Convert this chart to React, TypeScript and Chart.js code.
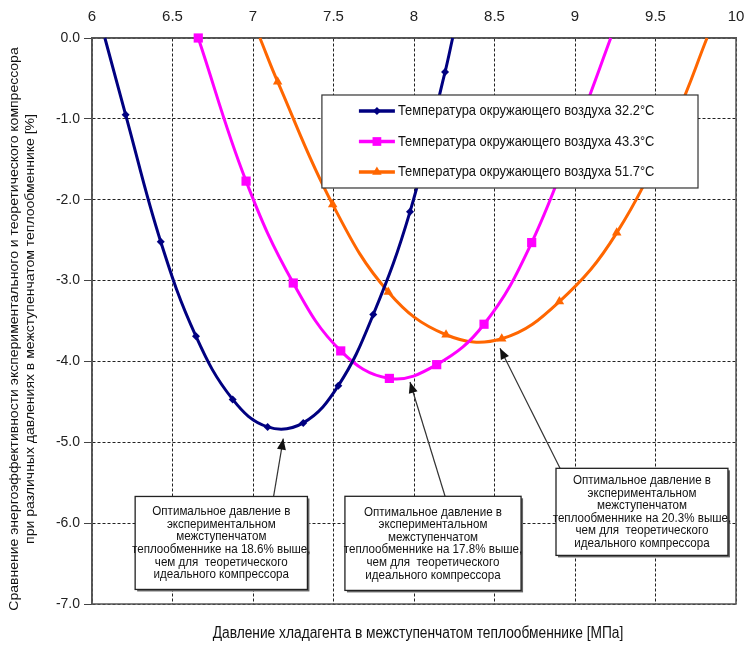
import React, { useEffect, useRef } from "react";
import { Chart, registerables } from "chart.js";
Chart.register(...registerables);

const FONT = "'Liberation Sans', Arial, sans-serif";

// ---- data ----
const seriesNames = [
  "Температура окружающего воздуха 32.2°C",
  "Температура окружающего воздуха 43.3°C",
  "Температура окружающего воздуха 51.7°C",
];

const pressure322 = [6.08, 6.209, 6.427, 6.646, 6.874, 7.091, 7.312, 7.53, 7.747, 7.975, 8.193, 8.24];
const effect322 = [0.0, -0.95, -2.52, -3.69, -4.47, -4.81, -4.76, -4.3, -3.42, -2.15, -0.42, 0.0];
const marked322 = [false, true, true, true, true, true, true, true, true, true, true, false];

const pressure433 = [6.66, 6.957, 7.25, 7.545, 7.847, 8.141, 8.435, 8.731, 9.04, 9.222];
const effect433 = [0.0, -1.77, -3.03, -3.87, -4.21, -4.04, -3.54, -2.53, -0.98, 0.0];
const marked433 = [true, true, true, true, true, true, true, true, true, false];

const pressure517 = [7.043, 7.153, 7.495, 7.84, 8.199, 8.545, 8.903, 9.259, 9.63, 9.82];
const effect517 = [0.0, -0.54, -2.06, -3.14, -3.67, -3.72, -3.26, -2.41, -0.95, 0.0];
const marked517 = [false, true, true, true, true, true, true, true, true, false];

const xRange = [6, 10];
const xStep = 0.5;
const yRange = [-7, 0];
const yStep = 1;

const xTitle = "Давление хладагента в межступенчатом теплообменнике [МПа]";
const yTitleLines = [
  "Сравнение энергоэффективности экспериментального и теоретического компрессора",
  "при различных давлениях в межступенчатом теплообменнике [%]",
];

const noteLines = [
  ["Оптимальное давление в", "экспериментальном", "межступенчатом", "теплообменнике на 18.6% выше,", "чем для  теоретического", "идеального компрессора"],
  ["Оптимальное давление в", "экспериментальном", "межступенчатом", "теплообменнике на 17.8% выше,", "чем для  теоретического", "идеального компрессора"],
  ["Оптимальное давление в", "экспериментальном", "межступенчатом", "теплообменнике на 20.3% выше,", "чем для  теоретического", "идеального компрессора"],
];
// arrow tips (data coords, at each curve's optimum)
const optimumPressure = [7.188, 7.975, 8.534];
const optimumEffect = [-4.954, -4.254, -3.837];

// ---- styles / layout ----
const COLORS = ["#000080", "#FF00FF", "#FF6600"];
const MARKERS = ["rectRot", "rect", "triangle"];
const MARKER_R = [4, 6.5, 5.5];
const SQX = 0.86; // horizontal squeeze of text

// annotation boxes in data coords: [x1, yTop, x2, yBottom, tailX]
const NOTE_BOX = [
  [6.268, -5.67, 7.338, -6.82, 7.128],
  [7.571, -5.668, 8.665, -6.832, 8.193],
  [8.882, -5.322, 9.95, -6.399, 8.907],
];

function drawText(ctx: CanvasRenderingContext2D, text: string, x: number, y: number, size: number, align: CanvasTextAlign) {
  ctx.save();
  ctx.translate(x, y);
  ctx.scale(SQX, 1);
  ctx.font = `${size}px ${FONT}`;
  ctx.textAlign = align;
  ctx.textBaseline = "middle";
  ctx.fillStyle = "#111";
  ctx.fillText(text, 0, 0);
  ctx.restore();
}

function drawMarker(ctx: CanvasRenderingContext2D, kind: string, x: number, y: number, r: number, color: string) {
  ctx.save();
  ctx.fillStyle = color;
  ctx.beginPath();
  if (kind === "rectRot") {
    ctx.moveTo(x, y - r);
    ctx.lineTo(x + r, y);
    ctx.lineTo(x, y + r);
    ctx.lineTo(x - r, y);
  } else if (kind === "rect") {
    const s = r * Math.SQRT1_2;
    ctx.rect(x - s, y - s, 2 * s, 2 * s);
  } else {
    ctx.moveTo(x, y - r);
    ctx.lineTo(x + r * 0.866, y + r * 0.5);
    ctx.lineTo(x - r * 0.866, y + r * 0.5);
  }
  ctx.closePath();
  ctx.fill();
  ctx.restore();
}

const overlayPlugin = {
  id: "overlay",
  beforeDatasetsDraw(chart: any) {
    const { ctx, chartArea: a } = chart;
    ctx.save();
    ctx.strokeStyle = "#555";
    ctx.lineWidth = 1.5;
    ctx.strokeRect(a.left, a.top, a.right - a.left, a.bottom - a.top);
    ctx.restore();
  },
  afterDatasetsDraw(chart: any) {
    const { ctx, chartArea: a, scales } = chart;
    const xs = scales.x, ys = scales.y;
    const W = a.right - a.left, H = a.bottom - a.top;

    // legend
    const lx1 = a.left + 0.357 * W, ly1 = a.top + 0.1007 * H;
    const lx2 = a.left + 0.941 * W, ly2 = a.top + 0.265 * H;
    ctx.save();
    ctx.fillStyle = "#fff";
    ctx.fillRect(lx1, ly1, lx2 - lx1, ly2 - ly1);
    ctx.strokeStyle = "#333";
    ctx.lineWidth = 1.2;
    ctx.strokeRect(lx1, ly1, lx2 - lx1, ly2 - ly1);
    ctx.restore();
    const rowsY = [ly1 + 16, ly1 + 46.5, ly1 + 77];
    seriesNames.forEach((name, i) => {
      const y = rowsY[i];
      ctx.save();
      ctx.strokeStyle = COLORS[i];
      ctx.lineWidth = 3.5;
      ctx.beginPath();
      ctx.moveTo(lx1 + 37, y);
      ctx.lineTo(lx1 + 73, y);
      ctx.stroke();
      ctx.restore();
      drawMarker(ctx, MARKERS[i], lx1 + 55, y, MARKER_R[i] * (i === 1 ? 0.95 : 1), COLORS[i]);
      drawText(ctx, name, lx1 + 76, y, 15, "left");
    });

    // annotations
    NOTE_BOX.forEach((b, i) => {
      const x1 = xs.getPixelForValue(b[0]);
      const y1 = ys.getPixelForValue(b[1]);
      const x2 = xs.getPixelForValue(b[2]);
      const y2 = ys.getPixelForValue(b[3]);
      const tx = xs.getPixelForValue(b[4]);
      const px = xs.getPixelForValue(optimumPressure[i]);
      const py = ys.getPixelForValue(optimumEffect[i]);
      ctx.save();
      ctx.strokeStyle = "#333";
      ctx.fillStyle = "#111";
      ctx.lineWidth = 1.2;
      ctx.beginPath();
      ctx.moveTo(tx, y1);
      ctx.lineTo(px, py);
      ctx.stroke();
      const ang = Math.atan2(py - y1, px - tx);
      const L = 11, Wd = 4.5;
      ctx.beginPath();
      ctx.moveTo(px, py);
      ctx.lineTo(px - L * Math.cos(ang) + Wd * Math.sin(ang), py - L * Math.sin(ang) - Wd * Math.cos(ang));
      ctx.lineTo(px - L * Math.cos(ang) - Wd * Math.sin(ang), py - L * Math.sin(ang) + Wd * Math.cos(ang));
      ctx.closePath();
      ctx.fill();
      ctx.fillStyle = "#666";
      ctx.fillRect(x1 + 2, y1 + 2, x2 - x1, y2 - y1);
      ctx.fillStyle = "#fff";
      ctx.fillRect(x1, y1, x2 - x1, y2 - y1);
      ctx.strokeStyle = "#222";
      ctx.lineWidth = 1.3;
      ctx.strokeRect(x1, y1, x2 - x1, y2 - y1);
      ctx.restore();
      const lines = noteLines[i];
      const lh = 12.6;
      const cy = (y1 + y2) / 2;
      const cx = (x1 + x2) / 2;
      lines.forEach((t, k) => {
        drawText(ctx, t, cx, cy + (k - (lines.length - 1) / 2) * lh, 13.5, "center");
      });
    });
  },
  afterDraw(chart: any) {
    const { ctx, chartArea: a } = chart;
    drawText(ctx, xTitle, (a.left + a.right) / 2 + 4, a.bottom + 30, 16, "center");
    const cy = (a.top + a.bottom) / 2 + 8;
    yTitleLines.forEach((t, i) => {
      ctx.save();
      ctx.translate(15 + i * 16, cy);
      ctx.rotate(-Math.PI / 2);
      ctx.scale(1, SQX);
      ctx.font = `14px ${FONT}`;
      ctx.textAlign = "center";
      ctx.textBaseline = "middle";
      ctx.fillStyle = "#111";
      ctx.fillText(t, 0, 0);
      ctx.restore();
    });
  },
};

function makeDataset(i: number, xs: number[], ys: number[], marked: boolean[]) {
  return {
    label: seriesNames[i],
    data: xs.map((x, k) => ({ x, y: ys[k] })),
    borderColor: COLORS[i],
    backgroundColor: COLORS[i],
    borderWidth: 3,
    pointStyle: MARKERS[i],
    pointRadius: marked.map((m) => (m ? MARKER_R[i] : 0)),
    pointBorderWidth: 0,
    pointBackgroundColor: COLORS[i],
    tension: 0.4,
    showLine: true,
    clip: false,
  };
}

export default function App() {
  const ref = useRef<HTMLCanvasElement | null>(null);
  useEffect(() => {
    document.body.style.margin = "0";
    const canvas = ref.current!;
    const chart = new Chart(canvas, {
      type: "scatter",
      data: {
        datasets: [
          makeDataset(0, pressure322, effect322, marked322),
          makeDataset(1, pressure433, effect433, marked433),
          makeDataset(2, pressure517, effect517, marked517),
        ],
      },
      options: {
        animation: false,
        responsive: false,
        events: [],
        layout: { padding: { left: 0, top: 0, right: 9, bottom: 42 } },
        plugins: { legend: { display: false }, tooltip: { enabled: false } },
        scales: {
          x: {
            type: "linear",
            position: "top",
            min: xRange[0],
            max: xRange[1],
            ticks: {
              stepSize: xStep,
              padding: 12,
              color: "#222",
              font: { family: FONT, size: 15 },
              callback: (v: any) => String(Number(v)),
            },
            grid: { color: "#222", lineWidth: 1, drawTicks: false },
            border: { display: true, color: "#555", width: 1.5, dash: [3, 2] },
            afterFit: (s: any) => {
              s.height = 38;
              s.paddingLeft = 0;
              s.paddingRight = 0;
            },
          },
          y: {
            type: "linear",
            min: yRange[0],
            max: yRange[1],
            ticks: {
              stepSize: yStep,
              padding: 4,
              color: "#222",
              font: { family: FONT, size: 14 },
              callback: (v: any) => Number(v).toFixed(1),
            },
            grid: { color: "#222", lineWidth: 1, tickLength: 8, tickColor: "#444", tickBorderDash: [] },
            border: { display: true, color: "#555", width: 1.5, dash: [3, 2] },
            afterFit: (s: any) => {
              s.width = 92;
              s.paddingTop = 0;
              s.paddingBottom = 0;
            },
          },
        },
      },
      plugins: [overlayPlugin],
    } as any);
    return () => chart.destroy();
  }, []);
  return <canvas ref={ref} width={745} height={646} style={{ display: "block", width: 745, height: 646 }} />;
}
